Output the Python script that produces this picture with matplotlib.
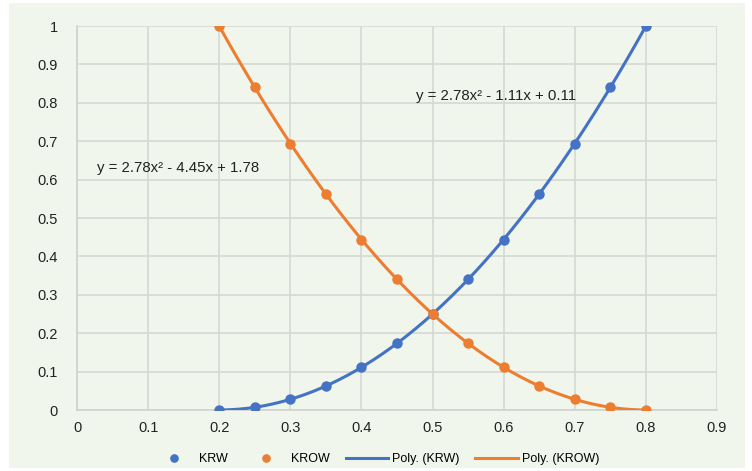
import numpy as np
import matplotlib
matplotlib.use("Agg")
import matplotlib.pyplot as plt
from matplotlib.patches import Rectangle

plt.rcParams['font.family'] = ['Liberation Sans', 'DejaVu Sans']

sw = [0.2, 0.25, 0.3, 0.35, 0.4, 0.45, 0.5, 0.55, 0.6, 0.65, 0.7, 0.75, 0.8]
krw = [0.0, 0.007, 0.028, 0.0625, 0.111, 0.174, 0.25, 0.34, 0.444, 0.5625, 0.694, 0.84, 1.0]
krow = [1.0, 0.84, 0.694, 0.5625, 0.444, 0.34, 0.25, 0.174, 0.111, 0.0625, 0.028, 0.007, 0.0]
eq_krw = "y = 2.78x² - 1.11x + 0.11"
eq_krow = "y = 2.78x² - 4.45x + 1.78"

blue = '#4472C4'
orange = '#ED7D31'
bg = '#F1F6EC'

fig = plt.figure(figsize=(7.52, 4.71), dpi=100, facecolor='white')
fig.patches.append(Rectangle((9/752, 3/471), 736/752, 465/471, transform=fig.transFigure,
                             facecolor=bg, edgecolor='none', zorder=-10))
ax = fig.add_axes([77/752, 1 - 410/471, 640/752, 384/471])
ax.set_facecolor(bg)

xs = np.linspace(0.2, 0.8, 200)
p1 = np.polyfit(sw, krw, 2)
p2 = np.polyfit(sw, krow, 2)
ax.plot(xs, np.polyval(p1, xs), color=blue, lw=2.2, label='Poly. (KRW)', zorder=3)
ax.plot(xs, np.polyval(p2, xs), color=orange, lw=2.2, label='Poly. (KROW)', zorder=3)
ax.plot(sw, krw, 'o', color=blue, ms=6.5, label='KRW', zorder=4)
ax.plot(sw, krow, 'o', color=orange, ms=6.5, label='KROW', zorder=4)

ax.set_xlim(0, 0.9)
ax.set_ylim(0, 1)
ax.set_xticks(np.arange(0, 0.91, 0.1))
ax.set_yticks(np.arange(0, 1.01, 0.1))
ax.set_xticklabels(['0', '0.1', '0.2', '0.3', '0.4', '0.5', '0.6', '0.7', '0.8', '0.9'])
ax.set_yticklabels(['0', '0.1', '0.2', '0.3', '0.4', '0.5', '0.6', '0.7', '0.8', '0.9', '1'])
ax.grid(True, color='#D6D9D3', lw=1.2)
ax.set_axisbelow(True)
for s in ['top', 'right']:
    ax.spines[s].set_visible(False)
ax.spines['left'].set_color('#D0D3CD')
ax.spines['bottom'].set_color('#D0D3CD')
ax.spines['left'].set_linewidth(1.2)
ax.spines['bottom'].set_linewidth(1.2)
ax.tick_params(length=0, labelsize=10.5, colors='#222222', pad=8)
ax.tick_params(axis='y', pad=14)

ax.text(0.028, 0.630, eq_krow, fontsize=10.8, color='#222222', va='center')
ax.text(0.477, 0.818, eq_krw, fontsize=10.8, color='#222222', va='center')

h, l = ax.get_legend_handles_labels()
order = [2, 3, 0, 1]
fig.legend([h[i] for i in order], [l[i] for i in order], loc='center',
           bbox_to_anchor=(0.5, 1 - 459/471), ncol=4, frameon=False, fontsize=9,
           handlelength=3.4, columnspacing=1.3, handletextpad=0.3, markerscale=0.8)

fig.savefig('out.png', dpi=100, facecolor='white')
